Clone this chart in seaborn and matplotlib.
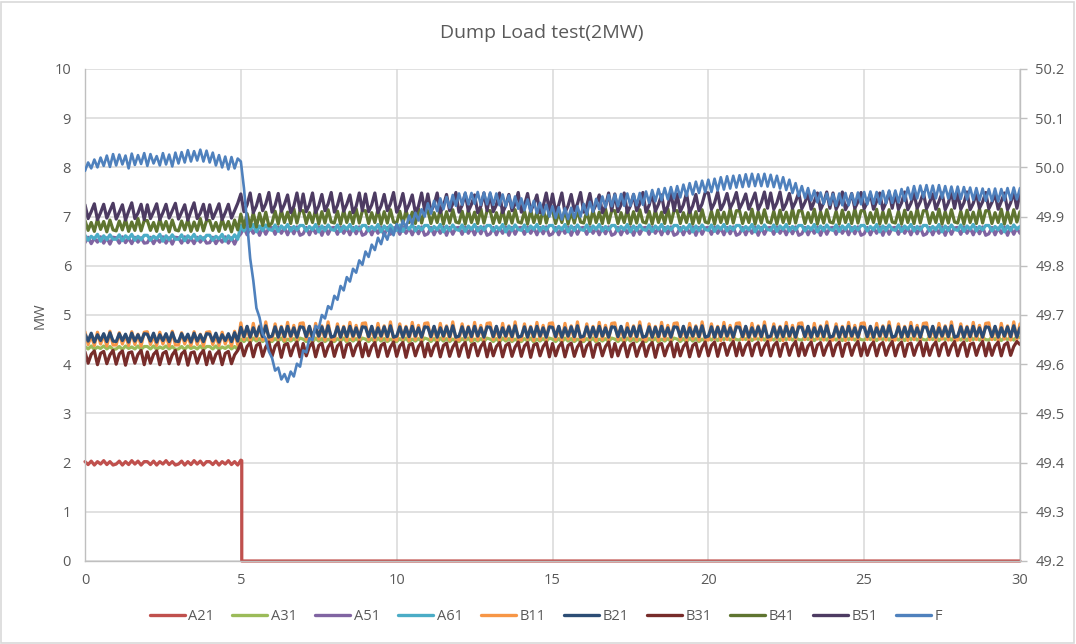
import numpy as np
import pandas as pd
import matplotlib
matplotlib.use("Agg")
import matplotlib.pyplot as plt
import seaborn as sns
from matplotlib.lines import Line2D
from matplotlib.patches import Rectangle
from matplotlib.ticker import FormatStrFormatter

# Logger samples every 0.1 s over the 30 s dump-load test (one row = one second)
time_s = np.linspace(0, 30, 301)

# A21 runs at 2 MW until the dump load trips it just after 5 s
a21_pre_mw = [2.02, 1.96, 2.03, 1.95, 2.02, 1.97, 2.04, 1.96, 2.02, 1.95,
              1.97, 2.03, 1.95, 2.02, 1.96, 2.04, 1.97, 2.03, 1.95, 2.02,
              2.02, 1.96, 2.03, 1.95, 2.02, 1.97, 2.04, 1.96, 2.02, 1.95,
              1.97, 2.03, 1.95, 2.02, 1.96, 2.04, 1.97, 2.03, 1.95, 2.02,
              2.02, 1.96, 2.03, 1.95, 2.02, 1.97, 2.04, 1.96, 2.02, 1.95,
              2.05]
a21_trip_t = [5.03, 5.03, 30.0]
a21_trip_mw = [2.04, 0.0, 0.0]

a31_mw = [
    4.36, 4.31, 4.37, 4.30, 4.35, 4.32, 4.37, 4.31, 4.36, 4.30,
    4.31, 4.36, 4.30, 4.37, 4.32, 4.35, 4.31, 4.37, 4.30, 4.36,
    4.36, 4.31, 4.37, 4.30, 4.35, 4.32, 4.37, 4.31, 4.36, 4.30,
    4.31, 4.36, 4.30, 4.37, 4.32, 4.35, 4.31, 4.37, 4.30, 4.36,
    4.36, 4.31, 4.37, 4.30, 4.35, 4.32, 4.37, 4.31, 4.36, 4.30,
    4.51, 4.46, 4.52, 4.45, 4.53, 4.47, 4.52, 4.46, 4.51, 4.47,
    4.46, 4.52, 4.47, 4.53, 4.45, 4.51, 4.47, 4.52, 4.46, 4.53,
    4.51, 4.46, 4.52, 4.45, 4.53, 4.47, 4.52, 4.46, 4.51, 4.47,
    4.46, 4.52, 4.47, 4.53, 4.45, 4.51, 4.47, 4.52, 4.46, 4.53,
    4.51, 4.46, 4.52, 4.45, 4.53, 4.47, 4.52, 4.46, 4.51, 4.47,
    4.46, 4.52, 4.47, 4.53, 4.45, 4.51, 4.47, 4.52, 4.46, 4.53,
    4.51, 4.46, 4.52, 4.45, 4.53, 4.47, 4.52, 4.46, 4.51, 4.47,
    4.46, 4.52, 4.47, 4.53, 4.45, 4.51, 4.47, 4.52, 4.46, 4.53,
    4.51, 4.46, 4.52, 4.45, 4.53, 4.47, 4.52, 4.46, 4.51, 4.47,
    4.46, 4.52, 4.47, 4.53, 4.45, 4.51, 4.47, 4.52, 4.46, 4.53,
    4.51, 4.46, 4.52, 4.45, 4.53, 4.47, 4.52, 4.46, 4.51, 4.47,
    4.46, 4.52, 4.47, 4.53, 4.45, 4.51, 4.47, 4.52, 4.46, 4.53,
    4.51, 4.46, 4.52, 4.45, 4.53, 4.47, 4.52, 4.46, 4.51, 4.47,
    4.46, 4.52, 4.47, 4.53, 4.45, 4.51, 4.47, 4.52, 4.46, 4.53,
    4.51, 4.46, 4.52, 4.45, 4.53, 4.47, 4.52, 4.46, 4.51, 4.47,
    4.54, 4.49, 4.55, 4.48, 4.56, 4.50, 4.55, 4.49, 4.54, 4.50,
    4.49, 4.55, 4.50, 4.56, 4.48, 4.54, 4.50, 4.55, 4.49, 4.56,
    4.54, 4.49, 4.55, 4.48, 4.56, 4.50, 4.55, 4.49, 4.54, 4.50,
    4.49, 4.55, 4.50, 4.56, 4.48, 4.54, 4.50, 4.55, 4.49, 4.56,
    4.54, 4.49, 4.55, 4.48, 4.56, 4.50, 4.55, 4.49, 4.54, 4.50,
    4.49, 4.55, 4.50, 4.56, 4.48, 4.54, 4.50, 4.55, 4.49, 4.56,
    4.54, 4.49, 4.55, 4.48, 4.56, 4.50, 4.55, 4.49, 4.54, 4.50,
    4.49, 4.55, 4.50, 4.56, 4.48, 4.54, 4.50, 4.55, 4.49, 4.56,
    4.54, 4.49, 4.55, 4.48, 4.56, 4.50, 4.55, 4.49, 4.54, 4.50,
    4.49, 4.55, 4.50, 4.56, 4.48, 4.54, 4.50, 4.55, 4.49, 4.56,
    4.54]

a51_mw = [
    6.47, 6.58, 6.45, 6.56, 6.48, 6.59, 6.46, 6.57, 6.44, 6.58,
    6.57, 6.46, 6.59, 6.47, 6.56, 6.45, 6.58, 6.48, 6.57, 6.46,
    6.47, 6.58, 6.45, 6.56, 6.48, 6.59, 6.46, 6.57, 6.44, 6.58,
    6.57, 6.46, 6.59, 6.47, 6.56, 6.45, 6.58, 6.48, 6.57, 6.46,
    6.47, 6.58, 6.45, 6.56, 6.48, 6.59, 6.46, 6.57, 6.44, 6.58,
    6.65, 6.78, 6.63, 6.77, 6.66, 6.79, 6.62, 6.78, 6.64, 6.77,
    6.78, 6.64, 6.79, 6.66, 6.77, 6.63, 6.78, 6.65, 6.79, 6.62,
    6.65, 6.78, 6.63, 6.77, 6.66, 6.79, 6.62, 6.78, 6.64, 6.77,
    6.78, 6.64, 6.79, 6.66, 6.77, 6.63, 6.78, 6.65, 6.79, 6.62,
    6.65, 6.78, 6.63, 6.77, 6.66, 6.79, 6.62, 6.78, 6.64, 6.77,
    6.78, 6.64, 6.79, 6.66, 6.77, 6.63, 6.78, 6.65, 6.79, 6.62,
    6.65, 6.78, 6.63, 6.77, 6.66, 6.79, 6.62, 6.78, 6.64, 6.77,
    6.78, 6.64, 6.79, 6.66, 6.77, 6.63, 6.78, 6.65, 6.79, 6.62,
    6.65, 6.78, 6.63, 6.77, 6.66, 6.79, 6.62, 6.78, 6.64, 6.77,
    6.78, 6.64, 6.79, 6.66, 6.77, 6.63, 6.78, 6.65, 6.79, 6.62,
    6.65, 6.78, 6.63, 6.77, 6.66, 6.79, 6.62, 6.78, 6.64, 6.77,
    6.78, 6.64, 6.79, 6.66, 6.77, 6.63, 6.78, 6.65, 6.79, 6.62,
    6.65, 6.78, 6.63, 6.77, 6.66, 6.79, 6.62, 6.78, 6.64, 6.77,
    6.78, 6.64, 6.79, 6.66, 6.77, 6.63, 6.78, 6.65, 6.79, 6.62,
    6.65, 6.78, 6.63, 6.77, 6.66, 6.79, 6.62, 6.78, 6.64, 6.77,
    6.78, 6.64, 6.79, 6.66, 6.77, 6.63, 6.78, 6.65, 6.79, 6.62,
    6.65, 6.78, 6.63, 6.77, 6.66, 6.79, 6.62, 6.78, 6.64, 6.77,
    6.78, 6.64, 6.79, 6.66, 6.77, 6.63, 6.78, 6.65, 6.79, 6.62,
    6.65, 6.78, 6.63, 6.77, 6.66, 6.79, 6.62, 6.78, 6.64, 6.77,
    6.78, 6.64, 6.79, 6.66, 6.77, 6.63, 6.78, 6.65, 6.79, 6.62,
    6.65, 6.78, 6.63, 6.77, 6.66, 6.79, 6.62, 6.78, 6.64, 6.77,
    6.78, 6.64, 6.79, 6.66, 6.77, 6.63, 6.78, 6.65, 6.79, 6.62,
    6.65, 6.78, 6.63, 6.77, 6.66, 6.79, 6.62, 6.78, 6.64, 6.77,
    6.78, 6.64, 6.79, 6.66, 6.77, 6.63, 6.78, 6.65, 6.79, 6.62,
    6.65, 6.78, 6.63, 6.77, 6.66, 6.79, 6.62, 6.78, 6.64, 6.77,
    6.66]

a61_mw = [
    6.62, 6.52, 6.60, 6.55, 6.64, 6.50, 6.61, 6.53, 6.63, 6.54,
    6.54, 6.63, 6.51, 6.61, 6.55, 6.64, 6.52, 6.60, 6.53, 6.62,
    6.62, 6.52, 6.60, 6.55, 6.64, 6.50, 6.61, 6.53, 6.63, 6.54,
    6.54, 6.63, 6.51, 6.61, 6.55, 6.64, 6.52, 6.60, 6.53, 6.62,
    6.62, 6.52, 6.60, 6.55, 6.64, 6.50, 6.61, 6.53, 6.63, 6.54,
    6.82, 6.71, 6.80, 6.73, 6.84, 6.69, 6.81, 6.72, 6.83, 6.74,
    6.72, 6.83, 6.70, 6.81, 6.74, 6.84, 6.71, 6.80, 6.73, 6.82,
    6.82, 6.71, 6.80, 6.73, 6.84, 6.69, 6.81, 6.72, 6.83, 6.74,
    6.72, 6.83, 6.70, 6.81, 6.74, 6.84, 6.71, 6.80, 6.73, 6.82,
    6.82, 6.71, 6.80, 6.73, 6.84, 6.69, 6.81, 6.72, 6.83, 6.74,
    6.72, 6.83, 6.70, 6.81, 6.74, 6.84, 6.71, 6.80, 6.73, 6.82,
    6.82, 6.71, 6.80, 6.73, 6.84, 6.69, 6.81, 6.72, 6.83, 6.74,
    6.72, 6.83, 6.70, 6.81, 6.74, 6.84, 6.71, 6.80, 6.73, 6.82,
    6.82, 6.71, 6.80, 6.73, 6.84, 6.69, 6.81, 6.72, 6.83, 6.74,
    6.72, 6.83, 6.70, 6.81, 6.74, 6.84, 6.71, 6.80, 6.73, 6.82,
    6.82, 6.71, 6.80, 6.73, 6.84, 6.69, 6.81, 6.72, 6.83, 6.74,
    6.72, 6.83, 6.70, 6.81, 6.74, 6.84, 6.71, 6.80, 6.73, 6.82,
    6.82, 6.71, 6.80, 6.73, 6.84, 6.69, 6.81, 6.72, 6.83, 6.74,
    6.72, 6.83, 6.70, 6.81, 6.74, 6.84, 6.71, 6.80, 6.73, 6.82,
    6.82, 6.71, 6.80, 6.73, 6.84, 6.69, 6.81, 6.72, 6.83, 6.74,
    6.72, 6.83, 6.70, 6.81, 6.74, 6.84, 6.71, 6.80, 6.73, 6.82,
    6.82, 6.71, 6.80, 6.73, 6.84, 6.69, 6.81, 6.72, 6.83, 6.74,
    6.72, 6.83, 6.70, 6.81, 6.74, 6.84, 6.71, 6.80, 6.73, 6.82,
    6.82, 6.71, 6.80, 6.73, 6.84, 6.69, 6.81, 6.72, 6.83, 6.74,
    6.72, 6.83, 6.70, 6.81, 6.74, 6.84, 6.71, 6.80, 6.73, 6.82,
    6.82, 6.71, 6.80, 6.73, 6.84, 6.69, 6.81, 6.72, 6.83, 6.74,
    6.72, 6.83, 6.70, 6.81, 6.74, 6.84, 6.71, 6.80, 6.73, 6.82,
    6.82, 6.71, 6.80, 6.73, 6.84, 6.69, 6.81, 6.72, 6.83, 6.74,
    6.72, 6.83, 6.70, 6.81, 6.74, 6.84, 6.71, 6.80, 6.73, 6.82,
    6.82, 6.71, 6.80, 6.73, 6.84, 6.69, 6.81, 6.72, 6.83, 6.74,
    6.80]

b11_mw = [
    4.66, 4.40, 4.58, 4.38, 4.65, 4.41, 4.60, 4.37, 4.67, 4.39,
    4.39, 4.64, 4.41, 4.59, 4.38, 4.66, 4.40, 4.61, 4.37, 4.65,
    4.66, 4.40, 4.58, 4.38, 4.65, 4.41, 4.60, 4.37, 4.67, 4.39,
    4.39, 4.64, 4.41, 4.59, 4.38, 4.66, 4.40, 4.61, 4.37, 4.65,
    4.66, 4.40, 4.58, 4.38, 4.65, 4.41, 4.60, 4.37, 4.67, 4.39,
    4.84, 4.50, 4.76, 4.48, 4.83, 4.51, 4.78, 4.49, 4.86, 4.50,
    4.49, 4.82, 4.51, 4.77, 4.48, 4.85, 4.50, 4.79, 4.49, 4.83,
    4.84, 4.50, 4.76, 4.48, 4.83, 4.51, 4.78, 4.49, 4.86, 4.50,
    4.49, 4.82, 4.51, 4.77, 4.48, 4.85, 4.50, 4.79, 4.49, 4.83,
    4.84, 4.50, 4.76, 4.48, 4.83, 4.51, 4.78, 4.49, 4.86, 4.50,
    4.49, 4.82, 4.51, 4.77, 4.48, 4.85, 4.50, 4.79, 4.49, 4.83,
    4.84, 4.50, 4.76, 4.48, 4.83, 4.51, 4.78, 4.49, 4.86, 4.50,
    4.49, 4.82, 4.51, 4.77, 4.48, 4.85, 4.50, 4.79, 4.49, 4.83,
    4.84, 4.50, 4.76, 4.48, 4.83, 4.51, 4.78, 4.49, 4.86, 4.50,
    4.49, 4.82, 4.51, 4.77, 4.48, 4.85, 4.50, 4.79, 4.49, 4.83,
    4.84, 4.50, 4.76, 4.48, 4.83, 4.51, 4.78, 4.49, 4.86, 4.50,
    4.49, 4.82, 4.51, 4.77, 4.48, 4.85, 4.50, 4.79, 4.49, 4.83,
    4.84, 4.50, 4.76, 4.48, 4.83, 4.51, 4.78, 4.49, 4.86, 4.50,
    4.49, 4.82, 4.51, 4.77, 4.48, 4.85, 4.50, 4.79, 4.49, 4.83,
    4.84, 4.50, 4.76, 4.48, 4.83, 4.51, 4.78, 4.49, 4.86, 4.50,
    4.49, 4.82, 4.51, 4.77, 4.48, 4.85, 4.50, 4.79, 4.49, 4.83,
    4.84, 4.50, 4.76, 4.48, 4.83, 4.51, 4.78, 4.49, 4.86, 4.50,
    4.49, 4.82, 4.51, 4.77, 4.48, 4.85, 4.50, 4.79, 4.49, 4.83,
    4.84, 4.50, 4.76, 4.48, 4.83, 4.51, 4.78, 4.49, 4.86, 4.50,
    4.49, 4.82, 4.51, 4.77, 4.48, 4.85, 4.50, 4.79, 4.49, 4.83,
    4.84, 4.50, 4.76, 4.48, 4.83, 4.51, 4.78, 4.49, 4.86, 4.50,
    4.49, 4.82, 4.51, 4.77, 4.48, 4.85, 4.50, 4.79, 4.49, 4.83,
    4.84, 4.50, 4.76, 4.48, 4.83, 4.51, 4.78, 4.49, 4.86, 4.50,
    4.49, 4.82, 4.51, 4.77, 4.48, 4.85, 4.50, 4.79, 4.49, 4.83,
    4.84, 4.50, 4.76, 4.48, 4.83, 4.51, 4.78, 4.49, 4.86, 4.50,
    4.82]

b21_mw = [
    4.61, 4.47, 4.63, 4.45, 4.60, 4.48, 4.62, 4.46, 4.64, 4.47,
    4.46, 4.62, 4.48, 4.61, 4.45, 4.63, 4.47, 4.60, 4.46, 4.62,
    4.61, 4.47, 4.63, 4.45, 4.60, 4.48, 4.62, 4.46, 4.64, 4.47,
    4.46, 4.62, 4.48, 4.61, 4.45, 4.63, 4.47, 4.60, 4.46, 4.62,
    4.61, 4.47, 4.63, 4.45, 4.60, 4.48, 4.62, 4.46, 4.64, 4.47,
    4.75, 4.56, 4.77, 4.55, 4.74, 4.57, 4.76, 4.56, 4.78, 4.55,
    4.57, 4.76, 4.55, 4.75, 4.56, 4.77, 4.57, 4.74, 4.55, 4.76,
    4.75, 4.56, 4.77, 4.55, 4.74, 4.57, 4.76, 4.56, 4.78, 4.55,
    4.57, 4.76, 4.55, 4.75, 4.56, 4.77, 4.57, 4.74, 4.55, 4.76,
    4.75, 4.56, 4.77, 4.55, 4.74, 4.57, 4.76, 4.56, 4.78, 4.55,
    4.57, 4.76, 4.55, 4.75, 4.56, 4.77, 4.57, 4.74, 4.55, 4.76,
    4.75, 4.56, 4.77, 4.55, 4.74, 4.57, 4.76, 4.56, 4.78, 4.55,
    4.57, 4.76, 4.55, 4.75, 4.56, 4.77, 4.57, 4.74, 4.55, 4.76,
    4.75, 4.56, 4.77, 4.55, 4.74, 4.57, 4.76, 4.56, 4.78, 4.55,
    4.57, 4.76, 4.55, 4.75, 4.56, 4.77, 4.57, 4.74, 4.55, 4.76,
    4.75, 4.56, 4.77, 4.55, 4.74, 4.57, 4.76, 4.56, 4.78, 4.55,
    4.57, 4.76, 4.55, 4.75, 4.56, 4.77, 4.57, 4.74, 4.55, 4.76,
    4.75, 4.56, 4.77, 4.55, 4.74, 4.57, 4.76, 4.56, 4.78, 4.55,
    4.57, 4.76, 4.55, 4.75, 4.56, 4.77, 4.57, 4.74, 4.55, 4.76,
    4.75, 4.56, 4.77, 4.55, 4.74, 4.57, 4.76, 4.56, 4.78, 4.55,
    4.57, 4.76, 4.55, 4.75, 4.56, 4.77, 4.57, 4.74, 4.55, 4.76,
    4.75, 4.56, 4.77, 4.55, 4.74, 4.57, 4.76, 4.56, 4.78, 4.55,
    4.57, 4.76, 4.55, 4.75, 4.56, 4.77, 4.57, 4.74, 4.55, 4.76,
    4.75, 4.56, 4.77, 4.55, 4.74, 4.57, 4.76, 4.56, 4.78, 4.55,
    4.57, 4.76, 4.55, 4.75, 4.56, 4.77, 4.57, 4.74, 4.55, 4.76,
    4.75, 4.56, 4.77, 4.55, 4.74, 4.57, 4.76, 4.56, 4.78, 4.55,
    4.57, 4.76, 4.55, 4.75, 4.56, 4.77, 4.57, 4.74, 4.55, 4.76,
    4.75, 4.56, 4.77, 4.55, 4.74, 4.57, 4.76, 4.56, 4.78, 4.55,
    4.57, 4.76, 4.55, 4.75, 4.56, 4.77, 4.57, 4.74, 4.55, 4.76,
    4.75, 4.56, 4.77, 4.55, 4.74, 4.57, 4.76, 4.56, 4.78, 4.55,
    4.74]

b31_mw = [
    4.25, 4.02, 4.20, 4.27, 3.99, 4.22, 4.26, 4.01, 4.19, 4.28,
    4.00, 4.21, 4.27, 3.98, 4.23, 4.25, 4.02, 4.20, 4.28, 3.99,
    4.25, 4.02, 4.20, 4.27, 3.99, 4.22, 4.26, 4.01, 4.19, 4.28,
    4.00, 4.21, 4.27, 3.98, 4.23, 4.25, 4.02, 4.20, 4.28, 3.99,
    4.25, 4.02, 4.20, 4.27, 3.99, 4.22, 4.26, 4.01, 4.19, 4.28,
    4.42, 4.17, 4.36, 4.44, 4.15, 4.38, 4.43, 4.16, 4.35, 4.45,
    4.16, 4.37, 4.44, 4.14, 4.39, 4.42, 4.17, 4.36, 4.45, 4.15,
    4.42, 4.17, 4.36, 4.44, 4.15, 4.38, 4.43, 4.16, 4.35, 4.45,
    4.16, 4.37, 4.44, 4.14, 4.39, 4.42, 4.17, 4.36, 4.45, 4.15,
    4.42, 4.17, 4.36, 4.44, 4.15, 4.38, 4.43, 4.16, 4.35, 4.45,
    4.16, 4.37, 4.44, 4.14, 4.39, 4.42, 4.17, 4.36, 4.45, 4.15,
    4.42, 4.17, 4.36, 4.44, 4.15, 4.38, 4.43, 4.16, 4.35, 4.45,
    4.16, 4.37, 4.44, 4.14, 4.39, 4.42, 4.17, 4.36, 4.45, 4.15,
    4.42, 4.17, 4.36, 4.44, 4.15, 4.38, 4.43, 4.16, 4.35, 4.45,
    4.16, 4.37, 4.44, 4.14, 4.39, 4.42, 4.17, 4.36, 4.45, 4.15,
    4.42, 4.17, 4.36, 4.44, 4.15, 4.38, 4.43, 4.16, 4.35, 4.45,
    4.16, 4.37, 4.44, 4.14, 4.39, 4.42, 4.17, 4.36, 4.45, 4.15,
    4.42, 4.17, 4.36, 4.44, 4.15, 4.38, 4.43, 4.16, 4.35, 4.45,
    4.16, 4.37, 4.44, 4.14, 4.39, 4.42, 4.17, 4.36, 4.45, 4.15,
    4.42, 4.17, 4.36, 4.44, 4.15, 4.38, 4.43, 4.16, 4.35, 4.45,
    4.17, 4.38, 4.45, 4.16, 4.40, 4.43, 4.18, 4.37, 4.46, 4.17,
    4.43, 4.18, 4.37, 4.45, 4.17, 4.39, 4.44, 4.18, 4.36, 4.46,
    4.17, 4.38, 4.45, 4.16, 4.40, 4.43, 4.18, 4.37, 4.46, 4.17,
    4.43, 4.18, 4.37, 4.45, 4.17, 4.39, 4.44, 4.18, 4.36, 4.46,
    4.17, 4.38, 4.45, 4.16, 4.40, 4.43, 4.18, 4.37, 4.46, 4.17,
    4.43, 4.18, 4.37, 4.45, 4.17, 4.39, 4.44, 4.18, 4.36, 4.46,
    4.17, 4.38, 4.45, 4.16, 4.40, 4.43, 4.18, 4.37, 4.46, 4.17,
    4.43, 4.18, 4.37, 4.45, 4.17, 4.39, 4.44, 4.18, 4.36, 4.46,
    4.17, 4.38, 4.45, 4.16, 4.40, 4.43, 4.18, 4.37, 4.46, 4.17,
    4.43, 4.18, 4.37, 4.45, 4.17, 4.39, 4.44, 4.18, 4.36, 4.46,
    4.40]

b41_mw = [
    6.92, 6.72, 6.88, 6.70, 6.95, 6.74, 6.90, 6.69, 6.93, 6.73,
    6.71, 6.91, 6.73, 6.94, 6.70, 6.89, 6.72, 6.96, 6.71, 6.92,
    6.92, 6.72, 6.88, 6.70, 6.95, 6.74, 6.90, 6.69, 6.93, 6.73,
    6.71, 6.91, 6.73, 6.94, 6.70, 6.89, 6.72, 6.96, 6.71, 6.92,
    6.92, 6.72, 6.88, 6.70, 6.95, 6.74, 6.90, 6.69, 6.93, 6.73,
    7.05, 6.78, 7.06, 6.80, 7.08, 6.79, 7.07, 6.82, 7.09, 6.81,
    6.87, 7.11, 6.85, 7.13, 6.88, 7.09, 6.86, 7.16, 6.87, 7.12,
    7.12, 6.86, 7.08, 6.88, 7.15, 6.85, 7.10, 6.87, 7.14, 6.89,
    6.87, 7.11, 6.85, 7.13, 6.88, 7.09, 6.86, 7.16, 6.87, 7.12,
    7.12, 6.86, 7.08, 6.88, 7.15, 6.85, 7.10, 6.87, 7.14, 6.89,
    6.87, 7.11, 6.85, 7.13, 6.88, 7.09, 6.86, 7.16, 6.87, 7.12,
    7.12, 6.86, 7.08, 6.88, 7.15, 6.85, 7.10, 6.87, 7.14, 6.89,
    6.87, 7.11, 6.85, 7.13, 6.88, 7.09, 6.86, 7.16, 6.87, 7.12,
    7.12, 6.86, 7.08, 6.88, 7.15, 6.85, 7.10, 6.87, 7.14, 6.89,
    6.87, 7.11, 6.85, 7.13, 6.88, 7.09, 6.86, 7.16, 6.87, 7.12,
    7.12, 6.86, 7.08, 6.88, 7.15, 6.85, 7.10, 6.87, 7.14, 6.89,
    6.87, 7.11, 6.85, 7.13, 6.88, 7.09, 6.86, 7.16, 6.87, 7.12,
    7.12, 6.86, 7.08, 6.88, 7.15, 6.85, 7.10, 6.87, 7.14, 6.89,
    6.87, 7.11, 6.85, 7.13, 6.88, 7.09, 6.86, 7.16, 6.87, 7.12,
    7.12, 6.86, 7.08, 6.88, 7.15, 6.85, 7.10, 6.87, 7.14, 6.89,
    6.87, 7.11, 6.85, 7.13, 6.88, 7.09, 6.86, 7.16, 6.87, 7.12,
    7.12, 6.86, 7.08, 6.88, 7.15, 6.85, 7.10, 6.87, 7.14, 6.89,
    6.87, 7.11, 6.85, 7.13, 6.88, 7.09, 6.86, 7.16, 6.87, 7.12,
    7.12, 6.86, 7.08, 6.88, 7.15, 6.85, 7.10, 6.87, 7.14, 6.89,
    6.87, 7.11, 6.85, 7.13, 6.88, 7.09, 6.86, 7.16, 6.87, 7.12,
    7.12, 6.86, 7.08, 6.88, 7.15, 6.85, 7.10, 6.87, 7.14, 6.89,
    6.87, 7.11, 6.85, 7.13, 6.88, 7.09, 6.86, 7.16, 6.87, 7.12,
    7.12, 6.86, 7.08, 6.88, 7.15, 6.85, 7.10, 6.87, 7.14, 6.89,
    6.87, 7.11, 6.85, 7.13, 6.88, 7.09, 6.86, 7.16, 6.87, 7.12,
    7.12, 6.86, 7.08, 6.88, 7.15, 6.85, 7.10, 6.87, 7.14, 6.89,
    7.10]

b51_mw = [
    7.24, 6.96, 7.10, 7.26, 6.94, 7.08, 7.25, 6.97, 7.12, 7.27,
    6.95, 7.09, 7.24, 6.93, 7.11, 7.28, 6.96, 7.07, 7.25, 6.94,
    7.24, 6.96, 7.10, 7.26, 6.94, 7.08, 7.25, 6.97, 7.12, 7.27,
    6.95, 7.09, 7.24, 6.93, 7.11, 7.28, 6.96, 7.07, 7.25, 6.94,
    7.24, 6.96, 7.10, 7.26, 6.94, 7.08, 7.25, 6.97, 7.12, 7.27,
    7.46, 7.10, 7.24, 7.48, 7.08, 7.22, 7.45, 7.12, 7.26, 7.49,
    7.09, 7.23, 7.47, 7.11, 7.25, 7.44, 7.08, 7.21, 7.48, 7.12,
    7.46, 7.10, 7.24, 7.48, 7.08, 7.22, 7.45, 7.12, 7.26, 7.49,
    7.09, 7.23, 7.47, 7.11, 7.25, 7.44, 7.08, 7.21, 7.48, 7.12,
    7.46, 7.10, 7.24, 7.48, 7.08, 7.22, 7.45, 7.12, 7.26, 7.49,
    7.09, 7.23, 7.47, 7.11, 7.25, 7.44, 7.08, 7.21, 7.48, 7.12,
    7.46, 7.10, 7.24, 7.48, 7.08, 7.22, 7.45, 7.12, 7.26, 7.49,
    7.09, 7.23, 7.47, 7.11, 7.25, 7.44, 7.08, 7.21, 7.48, 7.12,
    7.46, 7.10, 7.24, 7.48, 7.08, 7.22, 7.45, 7.12, 7.26, 7.49,
    7.09, 7.23, 7.47, 7.11, 7.25, 7.44, 7.08, 7.21, 7.48, 7.12,
    7.46, 7.10, 7.24, 7.48, 7.08, 7.22, 7.45, 7.12, 7.26, 7.49,
    7.09, 7.23, 7.47, 7.11, 7.25, 7.44, 7.08, 7.21, 7.48, 7.12,
    7.46, 7.10, 7.24, 7.48, 7.08, 7.22, 7.45, 7.12, 7.26, 7.49,
    7.09, 7.23, 7.47, 7.11, 7.25, 7.44, 7.08, 7.21, 7.48, 7.12,
    7.46, 7.10, 7.24, 7.48, 7.08, 7.22, 7.45, 7.12, 7.26, 7.49,
    7.48, 7.15, 7.28, 7.50, 7.14, 7.27, 7.47, 7.17, 7.30, 7.49,
    7.16, 7.29, 7.46, 7.15, 7.31, 7.48, 7.14, 7.28, 7.50, 7.17,
    7.48, 7.15, 7.28, 7.50, 7.14, 7.27, 7.47, 7.17, 7.30, 7.49,
    7.16, 7.29, 7.46, 7.15, 7.31, 7.48, 7.14, 7.28, 7.50, 7.17,
    7.48, 7.15, 7.28, 7.50, 7.14, 7.27, 7.47, 7.17, 7.30, 7.49,
    7.16, 7.29, 7.46, 7.15, 7.31, 7.48, 7.14, 7.28, 7.50, 7.17,
    7.48, 7.15, 7.28, 7.50, 7.14, 7.27, 7.47, 7.17, 7.30, 7.49,
    7.16, 7.29, 7.46, 7.15, 7.31, 7.48, 7.14, 7.28, 7.50, 7.17,
    7.48, 7.15, 7.28, 7.50, 7.14, 7.27, 7.47, 7.17, 7.30, 7.49,
    7.16, 7.29, 7.46, 7.15, 7.31, 7.48, 7.14, 7.28, 7.50, 7.17,
    7.46]

# Grid frequency in Hz (secondary axis)
f_hz = [
    49.993, 50.010, 49.998, 50.016, 50.000, 50.020, 50.003, 50.024, 50.001, 50.027,
    50.004, 50.026, 50.006, 50.024, 49.998, 50.028, 50.005, 50.025, 50.007, 50.029,
    50.003, 50.027, 50.008, 50.023, 50.004, 50.029, 50.006, 50.026, 50.002, 50.030,
    50.008, 50.031, 50.010, 50.035, 50.012, 50.033, 50.014, 50.036, 50.012, 50.034,
    50.010, 50.030, 50.004, 50.025, 50.000, 50.022, 49.996, 50.021, 49.998, 50.018,
    50.012, 49.958, 49.888, 49.815, 49.770, 49.714, 49.695, 49.662, 49.652, 49.626,
    49.613, 49.587, 49.593, 49.569, 49.580, 49.564, 49.585, 49.575, 49.601, 49.595,
    49.628, 49.624, 49.653, 49.649, 49.678, 49.673, 49.700, 49.693, 49.718, 49.712,
    49.739, 49.731, 49.759, 49.750, 49.777, 49.768, 49.794, 49.786, 49.811, 49.802,
    49.829, 49.818, 49.843, 49.832, 49.857, 49.844, 49.867, 49.853, 49.876, 49.862,
    49.885, 49.869, 49.892, 49.877, 49.902, 49.885, 49.908, 49.892, 49.915, 49.900,
    49.927, 49.906, 49.932, 49.911, 49.937, 49.915, 49.940, 49.918, 49.944, 49.922,
    49.947, 49.924, 49.949, 49.925, 49.948, 49.926, 49.950, 49.924, 49.949, 49.925,
    49.949, 49.924, 49.947, 49.923, 49.945, 49.921, 49.943, 49.918, 49.941, 49.916,
    49.937, 49.913, 49.935, 49.910, 49.932, 49.907, 49.928, 49.904, 49.924, 49.900,
    49.921, 49.897, 49.919, 49.894, 49.917, 49.895, 49.918, 49.897, 49.921, 49.900,
    49.926, 49.904, 49.930, 49.910, 49.936, 49.915, 49.941, 49.919, 49.944, 49.921,
    49.945, 49.921, 49.946, 49.922, 49.947, 49.922, 49.946, 49.923, 49.948, 49.924,
    49.951, 49.928, 49.954, 49.931, 49.956, 49.933, 49.958, 49.935, 49.960, 49.937,
    49.962, 49.939, 49.965, 49.942, 49.968, 49.945, 49.971, 49.948, 49.973, 49.950,
    49.975, 49.950, 49.977, 49.953, 49.980, 49.955, 49.982, 49.957, 49.983, 49.959,
    49.984, 49.960, 49.986, 49.961, 49.987, 49.962, 49.986, 49.962, 49.987, 49.961,
    49.985, 49.960, 49.983, 49.957, 49.980, 49.954, 49.975, 49.948, 49.968, 49.942,
    49.962, 49.938, 49.958, 49.933, 49.953, 49.929, 49.949, 49.926, 49.947, 49.924,
    49.946, 49.922, 49.947, 49.923, 49.948, 49.923, 49.947, 49.924, 49.949, 49.925,
    49.950, 49.925, 49.951, 49.926, 49.950, 49.926, 49.952, 49.927, 49.953, 49.928,
    49.953, 49.929, 49.956, 49.932, 49.959, 49.935, 49.962, 49.937, 49.963, 49.939,
    49.964, 49.938, 49.963, 49.937, 49.964, 49.938, 49.962, 49.937, 49.961, 49.936,
    49.961, 49.936, 49.960, 49.935, 49.959, 49.934, 49.958, 49.933, 49.957, 49.932,
    49.956, 49.932, 49.957, 49.931, 49.956, 49.933, 49.958, 49.934, 49.959, 49.935,
    49.958]

series_names = ["A21", "A31", "A51", "A61", "B11", "B21", "B31", "B41", "B51", "F"]
series_colors = ["#C0504D", "#9BBB59", "#8064A2", "#4BACC6", "#F79646",
                 "#2C4D75", "#772C2A", "#5F7530", "#4D3B62", "#4F81BD"]

x_ticks = [0, 5, 10, 15, 20, 25, 30]
mw_ticks = list(range(0, 11))
hz_ticks = [49.2, 49.3, 49.4, 49.5, 49.6, 49.7, 49.8, 49.9, 50.0, 50.1, 50.2]

sns.set_theme(style="white")
plt.rcParams["font.family"] = ["Open Sans", "DejaVu Sans"]

text_color = "#595959"
grid_color = "#D9D9D9"
axis_color = "#BFBFBF"
lw = 2.3

fig = plt.figure(figsize=(10.76, 6.44), dpi=100)
ax = fig.add_axes([85 / 1076, 1 - 561 / 644, 935 / 1076, 492 / 644])
ax2 = ax.twinx()

color_of = dict(zip(series_names, series_colors))

# A21 (with its trip to zero), then the other feeders on the MW axis
a21_df = pd.DataFrame({"t": list(time_s[:len(a21_pre_mw)]) + a21_trip_t,
                       "mw": a21_pre_mw + a21_trip_mw})
sns.lineplot(data=a21_df, x="t", y="mw", ax=ax, color=color_of["A21"], lw=lw,
             estimator=None, sort=False, clip_on=False)

mw_series = {"A31": a31_mw, "A51": a51_mw, "A61": a61_mw, "B11": b11_mw,
             "B21": b21_mw, "B31": b31_mw, "B41": b41_mw, "B51": b51_mw}
for name, vals in mw_series.items():
    assert len(vals) == len(time_s), (name, len(vals))
    df = pd.DataFrame({"t": time_s, "mw": vals})
    sns.lineplot(data=df, x="t", y="mw", ax=ax, color=color_of[name], lw=lw,
                 estimator=None, sort=False)

assert len(f_hz) == len(time_s), len(f_hz)
f_df = pd.DataFrame({"t": time_s, "hz": f_hz})
sns.lineplot(data=f_df, x="t", y="hz", ax=ax2, color=color_of["F"], lw=1.9,
             estimator=None, sort=False)

for a in (ax, ax2):
    if a.get_legend() is not None:
        a.get_legend().remove()
    a.set_xlabel("")
    a.set_ylabel("")

ax.set_xlim(0, 30)
ax.set_ylim(0, 10)
ax2.set_ylim(49.2, 50.2)
ax.set_xticks(x_ticks)
ax.set_yticks(mw_ticks)
ax2.set_yticks(hz_ticks)
ax2.yaxis.set_major_formatter(FormatStrFormatter("%.1f"))

ax.grid(True, color=grid_color, lw=1.1)
ax.set_axisbelow(True)
ax2.grid(False)

for s in ("top", "right"):
    ax.spines[s].set_visible(False)
for s in ("left", "bottom"):
    ax.spines[s].set_color(axis_color)
    ax.spines[s].set_linewidth(1.0)
for s in ("top", "left", "bottom"):
    ax2.spines[s].set_visible(False)
ax2.spines["right"].set_color(axis_color)
ax2.spines["right"].set_linewidth(1.0)

ax.tick_params(axis="both", length=0, labelsize=10.5, labelcolor=text_color)
ax.tick_params(axis="y", pad=10)
ax.tick_params(axis="x", pad=9)
ax2.tick_params(axis="y", direction="out", length=5, width=1, color=axis_color,
                labelsize=10.5, labelcolor=text_color, pad=6)

fig.text(542 / 1076, 1 - 33 / 644, "Dump Load test(2MW)", ha="center", va="center",
         fontsize=14, color=text_color)
fig.text(40 / 1076, 1 - 316 / 644, "MW", ha="center", va="center", rotation=90,
         fontsize=10.5, color=text_color)

handles = [Line2D([0], [0], color=c, lw=2.4) for c in series_colors]
fig.legend(handles, series_names, loc="center", bbox_to_anchor=(546 / 1076, 1 - 617 / 644),
           ncol=10, frameon=False, handlelength=2.4, handletextpad=0.25,
           columnspacing=1.25, fontsize=10.5, labelcolor=text_color)

fig.add_artist(Rectangle((0.001, 0.002), 0.997, 0.995, transform=fig.transFigure,
                         fill=False, ec=grid_color, lw=1.2))

fig.savefig("out.png", dpi=100)
